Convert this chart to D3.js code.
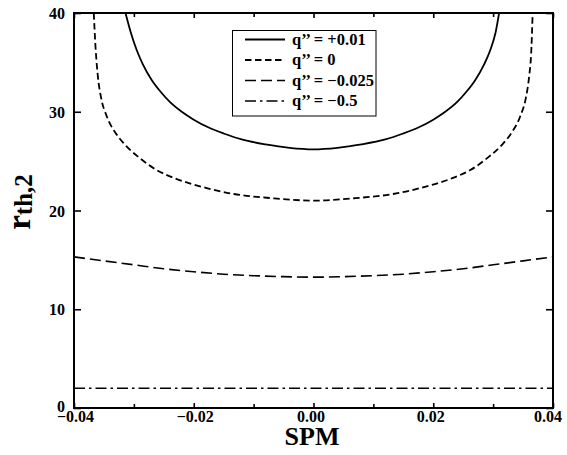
<!DOCTYPE html>
<html><head><meta charset="utf-8">
<script src="https://cdn.jsdelivr.net/npm/d3@7"></script>
<style>body{margin:0;background:#fff}text{font-family:"Liberation Serif","Times New Roman",serif;font-weight:bold;fill:#000}</style>
</head><body><svg id="c" width="567" height="455"></svg>
<script>
// ---- data ----
const xTicksMajor = [-0.04, -0.02, 0, 0.02, 0.04];
const xTickLabels = ["\u22120.04", "\u22120.02", "0.00", "0.02", "0.04"];
const xTicksMinor = [-0.03, -0.01, 0.01, 0.03];
const yTicks = [0, 10, 20, 30, 40];
const yTickLabels = ["0", "10", "20", "30", "40"];

const legendLabels = ["q\u2019\u2019 = +0.01", "q\u2019\u2019 = 0", "q\u2019\u2019 = \u22120.025", "q\u2019\u2019 = \u22120.5"];

const spmA = [-0.0314, -0.0305, -0.0295, -0.0285, -0.0270, -0.0255, -0.0240, -0.0220, -0.0200, -0.0175, -0.0150, -0.0120, -0.0080, -0.0040, 0,
              0.0040, 0.0080, 0.0120, 0.0150, 0.0175, 0.0200, 0.0220, 0.0240, 0.0255, 0.0270, 0.0285, 0.0295, 0.0304, 0.0310];
const rA   = [40, 38.0, 36.2, 34.8, 33.2, 32.0, 31.0, 30.0, 29.2, 28.4, 27.8, 27.2, 26.7, 26.35, 26.2,
              26.35, 26.7, 27.2, 27.8, 28.4, 29.2, 30.0, 31.0, 32.0, 33.2, 34.8, 36.2, 38.0, 40];

const spmB = [-0.0367, -0.0364, -0.0360, -0.0355, -0.0345, -0.0330, -0.0317, -0.0290, -0.0262, -0.0233, -0.0177, -0.0133, -0.007, 0,
              0.007, 0.0133, 0.0177, 0.0233, 0.0262, 0.0290, 0.0317, 0.0330, 0.0345, 0.0355, 0.0360, 0.0364, 0.0366];
const rB   = [40, 36.5, 33.5, 31.5, 29.5, 27.8, 26.8, 25.3, 24.1, 23.3, 22.25, 21.67, 21.25, 21.0,
              21.25, 21.67, 22.25, 23.3, 24.1, 25.3, 26.8, 27.8, 29.5, 31.5, 33.5, 36.5, 40];

const spmC = [-0.04, -0.035, -0.03, -0.025, -0.02, -0.015, -0.01, -0.005, 0, 0.005, 0.01, 0.015, 0.02, 0.025, 0.03, 0.035, 0.04];
const rC   = [15.3, 14.9, 14.5, 14.1, 13.8, 13.55, 13.4, 13.3, 13.25, 13.3, 13.4, 13.55, 13.8, 14.1, 14.5, 14.9, 15.3];

const spmD = [-0.04, 0, 0.04];
const rD   = [2.0, 2.0, 2.0];

// ---- drawing ----
const svg = d3.select("#c");
const L = 74, R = 553, T = 13, B = 408;
const x = d3.scaleLinear().domain([-0.04, 0.04]).range([L, R]);
const y = d3.scaleLinear().domain([0, 40]).range([B, T]);

const styles = [
  {dash: null, w: 1.8},
  {dash: "6.5,3.5", w: 1.8},
  {dash: "11,5", w: 1.6},
  {dash: "11,4,2.5,4", w: 1.3}
];
const series = [
  spmA.map((s, i) => [s, rA[i]]),
  spmB.map((s, i) => [s, rB[i]]),
  spmC.map((s, i) => [s, rC[i]]),
  spmD.map((s, i) => [s, rD[i]])
];

svg.append("defs").append("clipPath").attr("id", "clip")
  .append("rect").attr("x", L).attr("y", T).attr("width", R - L).attr("height", B - T);

const line = d3.line().x(d => x(d[0])).y(d => y(d[1])).curve(d3.curveMonotoneX);

const g = svg.append("g").attr("clip-path", "url(#clip)");
series.forEach((s, i) => {
  g.append("path").attr("d", line(s))
    .attr("fill", "none").attr("stroke", "#000")
    .attr("stroke-width", styles[i].w)
    .attr("stroke-dasharray", styles[i].dash);
});

// axes (ticks inward)
const axB = d3.axisBottom(x).tickValues(xTicksMajor).tickSize(-5).tickFormat("");
const axBm = d3.axisBottom(x).tickValues(xTicksMinor).tickSize(-4).tickFormat("");
const axT = d3.axisTop(x).tickValues(xTicksMajor).tickSize(-5).tickFormat("");
const axTm = d3.axisTop(x).tickValues(xTicksMinor).tickSize(-4).tickFormat("");
const axL = d3.axisLeft(y).tickValues(yTicks).tickSize(-7).tickFormat("");
const axR = d3.axisRight(y).tickValues(yTicks).tickSize(-7).tickFormat("");

[[axB, `translate(0,${B})`], [axBm, `translate(0,${B})`], [axT, `translate(0,${T})`], [axTm, `translate(0,${T})`],
 [axL, `translate(${L},0)`], [axR, `translate(${R},0)`]].forEach(([a, t]) => {
  const gg = svg.append("g").attr("transform", t).call(a);
  gg.select(".domain").remove();
  gg.selectAll(".tick line").attr("stroke", "#000").attr("stroke-width", 1.6);
});

svg.append("rect").attr("x", L).attr("y", T).attr("width", R - L).attr("height", B - T)
  .attr("fill", "none").attr("stroke", "#000").attr("stroke-width", 2);

// tick labels
svg.selectAll(".xl").data(xTicksMajor).enter().append("text")
  .attr("x", d => Math.min(x(d) + (d < 0 ? 1.5 : -2.5), 548)).attr("y", 422).attr("text-anchor", "middle")
  .attr("font-size", 16).text((d, i) => xTickLabels[i]);
svg.selectAll(".yl").data(yTicks).enter().append("text")
  .attr("x", 65).attr("y", d => d === 0 ? 412 : y(d) + 6).attr("text-anchor", "end")
  .attr("font-size", 16).text((d, i) => yTickLabels[i]);

// axis titles
svg.append("text").attr("x", 312).attr("y", 445).attr("text-anchor", "middle")
  .attr("font-size", 26).text("SPM");
const yt = svg.append("text").attr("transform", "translate(30,202) rotate(-90)")
  .attr("text-anchor", "middle");
yt.append("tspan").attr("font-size", 33).text("r");
yt.append("tspan").attr("font-size", 25).attr("dy", 2).text("th,2");

// legend
const lg = svg.append("g");
lg.append("rect").attr("x", 232.5).attr("y", 30.5).attr("width", 143.5).attr("height", 85.5)
  .attr("fill", "#fff").attr("stroke", "#000").attr("stroke-width", 1);
const rows = [44.5, 65, 85.5, 106];
legendLabels.forEach((lab, i) => {
  lg.append("line").attr("x1", 245).attr("x2", 285).attr("y1", rows[i] - 5).attr("y2", rows[i] - 5)
    .attr("stroke", "#000").attr("stroke-width", styles[i].w).attr("stroke-dasharray", styles[i].dash);
  lg.append("text").attr("x", 292).attr("y", rows[i]).attr("font-size", 16.5).text(lab);
});
</script>
</body></html>
